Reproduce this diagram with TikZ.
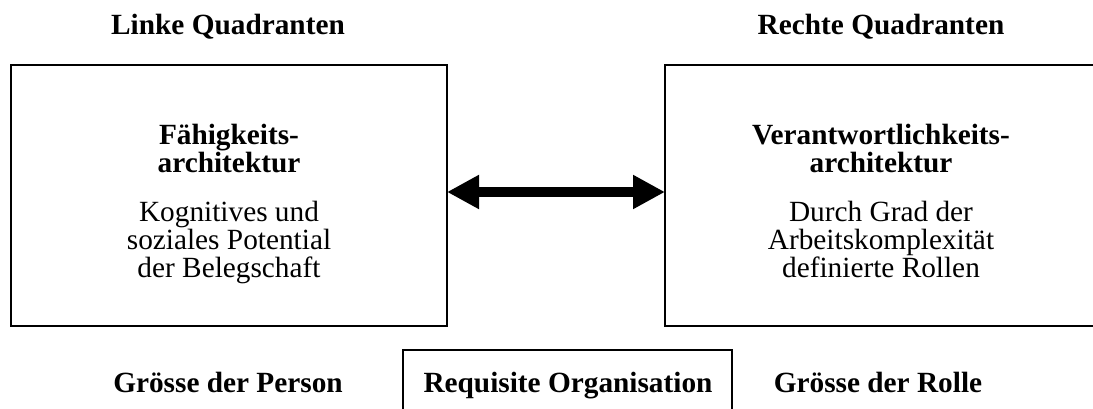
\documentclass[tikz,border=0pt]{standalone}
\usepackage{fontspec}
\setmainfont{Liberation Serif}
\usetikzlibrary{arrows.meta}
\begin{document}
\begin{tikzpicture}[x=1pt,y=-1pt,
  txt/.style={font=\fontsize{29.3}{30}\selectfont, inner sep=0pt, anchor=base},
  hd/.style={txt, font=\fontsize{29.3}{30}\selectfont\bfseries},
  panel/.style={draw, line width=2pt, outer sep=0pt, inner sep=0pt, anchor=north west},
  link/.style={line width=10pt, {Triangle[length=32pt,width=32pt]}-{Triangle[length=32pt,width=32pt]}}
]
\useasboundingbox (0,0) rectangle (1093,409);
\begin{scope}
\clip (0,0) rectangle (1093,409);
% the two quadrant panels and the lower box
\node[panel, minimum width=436pt, minimum height=261pt] (left) at (11,65) {};
\node[panel, minimum width=436pt, minimum height=261pt] (right) at (665,65) {};
\node[panel, minimum width=329pt, minimum height=80pt] (req) at (403,350) {};
\end{scope}

% headings above the panels
\node[hd] (lq) at (228,35) {Linke Quadranten};
\node[hd] (rq) at (881,35) {Rechte Quadranten};

% left panel text
\node[hd] (l1) at (229,145) {Fähigkeits-};
\node[hd] (l2) at (229,173) {architektur};
\node[txt] (l3) at (229,222) {Kognitives und};
\node[txt] (l4) at (229,249.5) {soziales Potential};
\node[txt] (l5) at (229,277) {der Belegschaft};

% right panel text
\node[hd] (r1) at (881,145) {Verantwortlichkeits-};
\node[hd] (r2) at (881,173) {architektur};
\node[txt] (r3) at (881,222) {Durch Grad der};
\node[txt] (r4) at (881,249.5) {Arbeitskomplexität};
\node[txt] (r5) at (881,277) {definierte Rollen};

% labels along the bottom
\node[hd] (gp) at (228,392) {Grösse der Person};
\node[hd] (ro) at (568,392) {Requisite Organisation};
\node[hd] (gr) at (878,392) {Grösse der Rolle};

% double-headed link between the panels
\coordinate (a) at (0,192);
\draw[link] (left.east |- a) -- (right.west |- a);
\end{tikzpicture}
\end{document}
